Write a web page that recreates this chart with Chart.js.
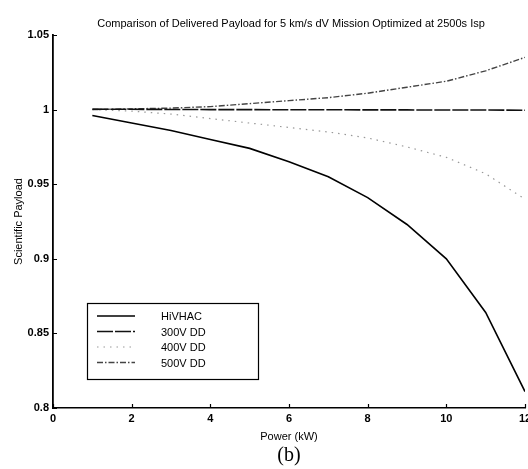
<!DOCTYPE html>
<html>
<head>
<meta charset="utf-8">
<script src="https://cdn.jsdelivr.net/npm/chart.js@4.4.0/dist/chart.umd.min.js"></script>
<style>
  html, body { margin: 0; padding: 0; background: #fff; }
  #wrap { width: 528px; height: 469px; }
</style>
</head>
<body>
<div id="wrap"><canvas id="chartPayload" width="528" height="469"></canvas></div>
<script>
  /* Datos */
  var powerKW = [1, 2, 3, 4, 5, 6, 7, 8, 9, 10, 11, 12];
  var hivhac = [0.996, 0.991, 0.986, 0.980, 0.974, 0.965, 0.955, 0.941, 0.923, 0.900, 0.864, 0.811];
  var dd300 = [1.0003, 1.0002, 1.0001, 1.0, 1.0, 0.9999, 0.9999, 0.9998, 0.9998, 0.9997, 0.9997, 0.9996];
  var dd400 = [1.0, 0.999, 0.997, 0.994, 0.991, 0.988, 0.985, 0.981, 0.975, 0.968, 0.957, 0.940];
  var dd500 = [1.0, 1.0005, 1.001, 1.002, 1.004, 1.006, 1.008, 1.011, 1.015, 1.019, 1.026, 1.035];
  var seriesNames = ['HiVHAC', '300V DD', '400V DD', '500V DD'];
  var xTicks = [0, 2, 4, 6, 8, 10, 12];
  var yTicks = [0.8, 0.85, 0.9, 0.95, 1, 1.05];

  var chartTitle = 'Comparison of Delivered Payload for 5 km/s dV Mission Optimized at 2500s Isp';
  var fontName = "'Liberation Sans', Arial, sans-serif";

  function toPoints(values) {
    let pts = [];
    for (let i = 0; i < powerKW.length; i++) {
      pts.push({ x: powerKW[i], y: values[i] });
    }
    return pts;
  }

  /* Titulo, (b), ticks hacia adentro y leyenda */
  const extrasPlugin = {
    id: 'extras',
    afterDraw: function (chart) {
      const ctx = chart.ctx;
      const area = chart.chartArea;
      const xs = chart.scales.x;
      const ys = chart.scales.y;
      const cx = (area.left + area.right) / 2;

      ctx.save();
      ctx.fillStyle = '#000';
      ctx.textAlign = 'center';
      ctx.textBaseline = 'middle';
      ctx.font = '11px ' + fontName;
      ctx.fillText(chartTitle, cx + 2, 24);

      ctx.font = "20px 'Liberation Serif', 'Times New Roman', serif";
      ctx.fillText('(b)', cx, 456);

      // ticks hacia adentro
      ctx.strokeStyle = '#000';
      ctx.lineWidth = 1.2;
      ctx.beginPath();
      xTicks.forEach(function (v) {
        let px = Math.round(xs.getPixelForValue(v)) + 0.5;
        ctx.moveTo(px, area.bottom);
        ctx.lineTo(px, area.bottom - 4);
      });
      yTicks.forEach(function (v) {
        let py = Math.round(ys.getPixelForValue(v)) + 0.5;
        ctx.moveTo(area.left, py);
        ctx.lineTo(area.left + 4, py);
      });
      ctx.stroke();

      // leyenda
      const box = { x: 87, y: 303, w: 171, h: 76 };
      ctx.fillStyle = '#fff';
      ctx.fillRect(box.x, box.y, box.w, box.h);
      ctx.strokeStyle = '#000';
      ctx.lineWidth = 1.2;
      ctx.strokeRect(box.x + 0.5, box.y + 0.5, box.w, box.h);

      ctx.textAlign = 'left';
      ctx.font = '11px ' + fontName;
      chart.data.datasets.forEach(function (ds, i) {
        let ly = box.y + 13 + i * 15.5;
        ctx.beginPath();
        ctx.strokeStyle = ds.borderColor;
        ctx.lineWidth = ds.borderWidth;
        ctx.setLineDash(ds.borderDash || []);
        ctx.moveTo(box.x + 10, ly);
        ctx.lineTo(box.x + 48, ly);
        ctx.stroke();
        ctx.setLineDash([]);
        ctx.fillStyle = '#000';
        ctx.fillText(ds.label, box.x + 74, ly + 1);
      });
      ctx.restore();
    },
  };

  const cmc = document.getElementById('chartPayload');
  const chartPayload = new Chart(cmc, {
    type: 'line',
    plugins: [extrasPlugin],
    data: {
      datasets: [
        {
          label: seriesNames[0],
          data: toPoints(hivhac),
          borderColor: '#000',
          borderWidth: 1.6,
          pointRadius: 0,
          tension: 0,
        },
        {
          label: seriesNames[1],
          data: toPoints(dd300),
          borderColor: '#111',
          borderWidth: 1.6,
          borderDash: [16, 2],
          pointRadius: 0,
          tension: 0,
        },
        {
          label: seriesNames[2],
          data: toPoints(dd400),
          borderColor: '#999',
          borderWidth: 1.2,
          borderDash: [1.5, 5],
          pointRadius: 0,
          tension: 0,
        },
        {
          label: seriesNames[3],
          data: toPoints(dd500),
          borderColor: '#444',
          borderWidth: 1.4,
          borderDash: [6, 2, 1.5, 2],
          pointRadius: 0,
          tension: 0,
        },
      ],
    },
    options: {
      responsive: false,
      animation: false,
      layout: {
        padding: { top: 35, left: 0, right: 3, bottom: 0 },
      },
      plugins: {
        legend: { display: false },
        title: { display: false },
        tooltip: { enabled: false },
      },
      scales: {
        x: {
          type: 'linear',
          min: 0,
          max: 12,
          afterBuildTicks: function (s) {
            s.ticks = xTicks.map(function (v) { return { value: v }; });
          },
          afterFit: function (s) {
            s.height = 61;
            s.paddingLeft = 0;
            s.paddingRight = 0;
          },
          grid: { display: false, drawTicks: false },
          border: { display: true, color: '#000', width: 1.5 },
          ticks: {
            color: '#000',
            padding: 4,
            maxRotation: 0,
            font: { family: fontName, size: 11, weight: 'bold' },
          },
          title: {
            display: true,
            text: 'Power (kW)',
            color: '#000',
            padding: { top: 0, bottom: 25 },
            font: { family: fontName, size: 11 },
          },
        },
        y: {
          min: 0.8,
          max: 1.05,
          afterBuildTicks: function (s) {
            s.ticks = yTicks.map(function (v) { return { value: v }; });
          },
          afterFit: function (s) {
            s.width = 53;
          },
          grid: { display: false, drawTicks: false },
          border: { display: true, color: '#000', width: 1.8 },
          ticks: {
            color: '#000',
            padding: 4,
            font: { family: fontName, size: 11, weight: 'bold' },
            callback: function (value) {
              return String(+value.toFixed(2));
            },
          },
          title: {
            display: true,
            text: 'Scientific Payload',
            color: '#000',
            padding: { top: 12, bottom: 0 },
            font: { family: fontName, size: 11 },
          },
        },
      },
    },
  });
</script>
</body>
</html>
